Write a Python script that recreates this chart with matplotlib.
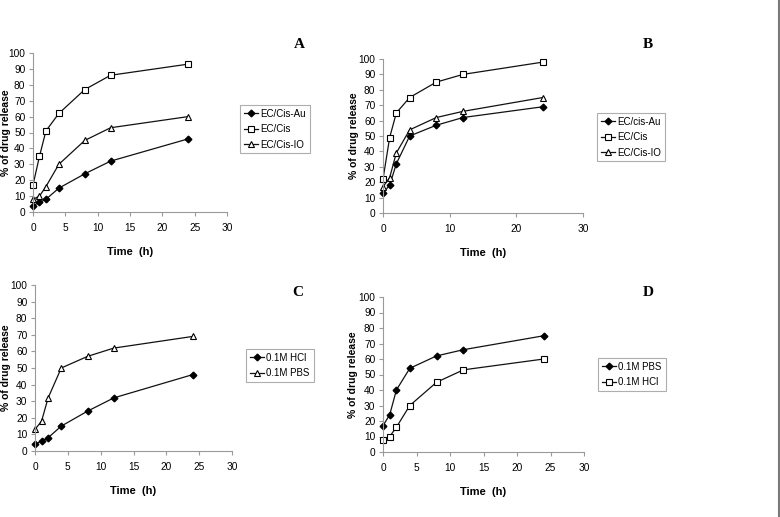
import matplotlib
matplotlib.use("Agg")
import matplotlib.pyplot as plt
from matplotlib.lines import Line2D

# sampling times (h), shared by every panel
time_h = [0, 1, 2, 4, 8, 12, 24]

# panel A
a_au = [4, 6, 8, 15, 24, 32, 46]
a_cis = [17, 35, 51, 62, 77, 86, 93]
a_io = [8, 10, 16, 30, 45, 53, 60]

# panel B
b_au = [13, 18, 32, 50, 57, 62, 69]
b_cis = [22, 49, 65, 75, 85, 90, 98]
b_io = [17, 23, 39, 54, 62, 66, 75]

# panel C
c_hcl = [4, 6, 8, 15, 24, 32, 46]
c_pbs = [13, 18, 32, 50, 57, 62, 69]

# panel D
d_pbs = [17, 24, 40, 54, 62, 66, 75]
d_hcl = [8, 10, 16, 30, 45, 53, 60]

plt.rcParams["font.family"] = ["Liberation Sans", "DejaVu Sans"]

W, H = 780, 517
fig = plt.figure(figsize=(W / 100, H / 100), dpi=100)


def px_axes(x0, x1, y0, y1):
    return fig.add_axes([x0 / W, 1 - y1 / H, (x1 - x0) / W, (y1 - y0) / H])


STY = {
    "diamond": dict(marker="D", ms=3.4, mfc="black", mec="black"),
    "square": dict(marker="s", ms=3.8, mfc="white", mec="black", mew=0.8),
    "triangle": dict(marker="^", ms=4.2, mfc="white", mec="black", mew=0.8),
}


def panel(ax, series, xstep, letter, letter_xy, leg_xy, ylab_x):
    for label, vals, kind in series:
        ax.plot(time_h, vals, color="#111111", lw=0.9, label=label, clip_on=False, **STY[kind])
    ax.set_xlim(0, 30)
    ax.set_ylim(0, 100)
    ax.set_xticks(range(0, 31, xstep))
    ax.set_yticks(range(0, 101, 10))
    for s in ("top", "right"):
        ax.spines[s].set_visible(False)
    for s in ("left", "bottom"):
        ax.spines[s].set_color("#9a9a9a")
        ax.spines[s].set_linewidth(0.8)
    ax.tick_params(labelsize=7.3, length=3, width=0.8, color="#9a9a9a", pad=2.5)
    ax.tick_params(axis="x", pad=5)
    ax.set_xlabel("Time  (h)", fontsize=8, fontweight="bold", labelpad=10)
    ax.set_ylabel("% of drug release", fontsize=7.5, fontweight="bold")
    # place the y label by page pixel (its right edge), like the reference
    pos = ax.get_position()
    ax.yaxis.set_label_coords((ylab_x - pos.x0 * W) / (pos.width * W), 0.5)
    fig.text(letter_xy[0] / W, 1 - letter_xy[1] / H, letter, family="Liberation Serif",
             fontsize=11, fontweight="bold", ha="center", va="center")
    leg = ax.legend(loc="upper left", bbox_to_anchor=(leg_xy[0] / W, 1 - leg_xy[1] / H),
                    bbox_transform=fig.transFigure, borderaxespad=0, fontsize=7,
                    frameon=True, fancybox=False, edgecolor="#9a9a9a", handlelength=1.5,
                    handletextpad=0.2, labelspacing=0.55, borderpad=0.4)
    leg.get_frame().set_linewidth(0.8)


axA = px_axes(33, 227, 53, 212)
panel(axA, [("EC/Cis-Au", a_au, "diamond"), ("EC/Cis", a_cis, "square"),
            ("EC/Cis-IO", a_io, "triangle")], 5, "A", (299, 45), (240, 105), 11)

axB = px_axes(383, 583, 59, 213)
panel(axB, [("EC/cis-Au", b_au, "diamond"), ("EC/Cis", b_cis, "square"),
            ("EC/Cis-IO", b_io, "triangle")], 10, "B", (648, 44), (597, 113), 359)

axC = px_axes(35, 232, 285, 451)
panel(axC, [("0.1M HCl", c_hcl, "diamond"), ("0.1M PBS", c_pbs, "triangle")],
      5, "C", (298, 293), (246, 349), 11)

axD = px_axes(383, 584, 297, 452)
panel(axD, [("0.1M PBS", d_pbs, "diamond"), ("0.1M HCl", d_hcl, "square")],
      5, "D", (648, 293), (598, 358), 358)

# grey frame edge at the right of the page
fig.add_artist(Line2D([778.5 / W, 778.5 / W], [0, 1], color="#7a7a7a", lw=1.5))

fig.savefig("out.png", dpi=100)
